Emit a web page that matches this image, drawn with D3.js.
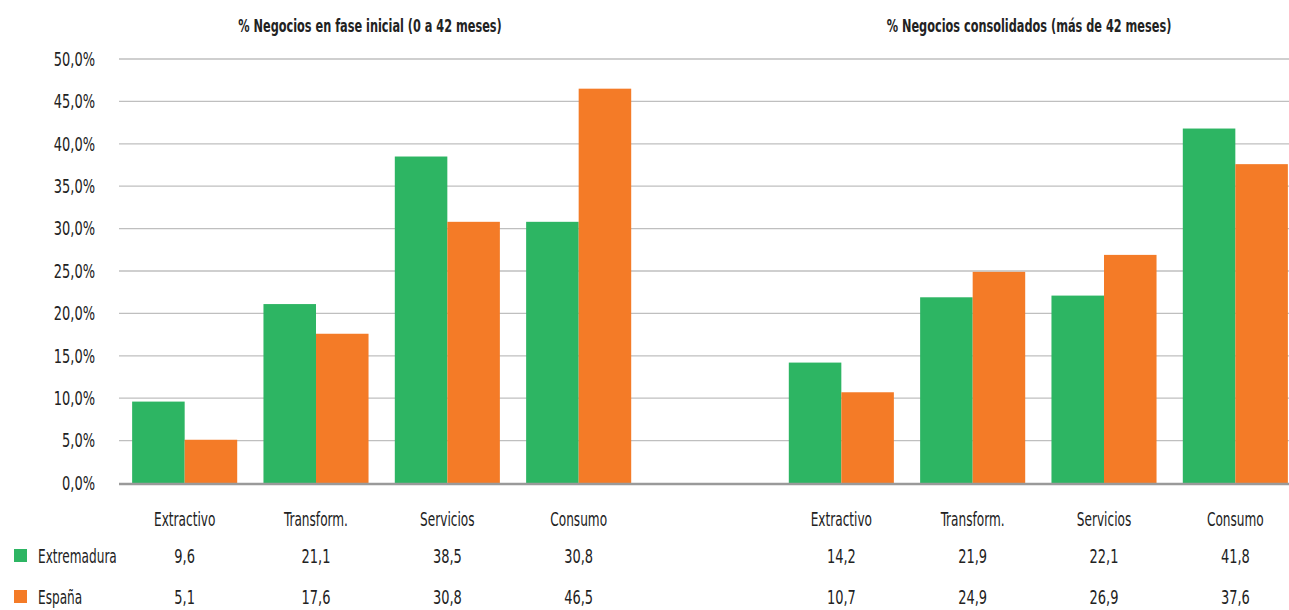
<!DOCTYPE html>
<html><head><meta charset="utf-8">
<script src="https://cdn.jsdelivr.net/npm/d3@7/dist/d3.min.js"></script>
<style>
body{margin:0;background:#fff;}
text{font-family:"DejaVu Sans Condensed","Liberation Sans Narrow",sans-serif;fill:#222;}
</style></head>
<body><svg id="c" width="1289" height="610"></svg>
<script>
const slots = ["i-Extractivo","i-Transform.","i-Servicios","i-Consumo","gap","c-Extractivo","c-Transform.","c-Servicios","c-Consumo"];
const catLabels = ["Extractivo","Transform.","Servicios","Consumo","","Extractivo","Transform.","Servicios","Consumo"];
const extremadura = [9.6,21.1,38.5,30.8,null,14.2,21.9,22.1,41.8];
const espana = [5.1,17.6,30.8,46.5,null,10.7,24.9,26.9,37.6];
const seriesNames = ["Extremadura","España"];
const colors = ["#2db563","#f47b27"];
const yTicks = [0,5,10,15,20,25,30,35,40,45,50];
const titles = ["% Negocios en fase inicial (0 a 42 meses)","% Negocios consolidados (más de 42 meses)"];

const svg = d3.select("#c");
const x = d3.scaleBand().domain(slots).range([119,1301]).paddingInner(0.2).paddingOuter(0.1);
const xs = d3.scaleBand().domain([0,1]).range([0,x.bandwidth()]);
const y = d3.scaleLinear().domain([0,50]).range([483,59]);
const fmt = v => v.toFixed(1).replace(".",",");
const SX = 0.71;
function label(sel, px, py, anchor, size, sx){
  return sel.attr("transform", d => `translate(${px(d)},${py(d)}) scale(${sx},1)`)
    .attr("x",0).attr("y",0).attr("dy","0.35em").attr("text-anchor",anchor).attr("font-size",size);
}

// grid
svg.append("g").selectAll("line").data(yTicks.filter(t=>t>0)).join("line")
  .attr("x1",119).attr("x2",1289).attr("y1",d=>y(d)).attr("y2",d=>y(d))
  .attr("stroke","#bfbfbf").attr("stroke-width",1.3);
// y labels
label(svg.append("g").selectAll("text").data(yTicks).join("text"), ()=>95, d=>y(d), "end", 19.5, 0.74)
  .text(d=>fmt(d)+"%");

// bars
const series=[extremadura,espana];
series.forEach((vals,si)=>{
  svg.append("g").selectAll("rect").data(slots.map((s,i)=>({s,v:vals[i]})).filter(d=>d.v!=null)).join("rect")
    .attr("x",d=>x(d.s)+xs(si)).attr("width",xs.bandwidth())
    .attr("y",d=>y(d.v)).attr("height",d=>y(0)-y(d.v)).attr("fill",colors[si]);
});
// axis line
svg.append("line").attr("x1",119).attr("x2",1289).attr("y1",y(0)+1).attr("y2",y(0)+1)
  .attr("stroke","#9a9a9a").attr("stroke-width",2.5);

// category labels
label(svg.append("g").selectAll("text").data(slots.map((s,i)=>({s,l:catLabels[i]}))).join("text"),
  d=>x(d.s)+x.bandwidth()/2, ()=>519, "middle", 19, SX).text(d=>d.l);

// table rows
const rowY=[556,597];
series.forEach((vals,si)=>{
  svg.append("rect").attr("x",14).attr("y",rowY[si]-7).attr("width",13).attr("height",13).attr("fill",colors[si]);
  label(svg.append("text").datum(0), ()=>38, ()=>rowY[si], "start", 19, SX).text(seriesNames[si]);
  label(svg.append("g").selectAll("text").data(slots.map((s,i)=>({s,v:vals[i]})).filter(d=>d.v!=null)).join("text"),
    d=>x(d.s)+x.bandwidth()/2, ()=>rowY[si], "middle", 19.5, 0.74).text(d=>fmt(d.v));
});

// titles
const tx=[370,1029];
titles.forEach((t,i)=>{
  label(svg.append("text").datum(i), ()=>tx[i], ()=>26, "middle", 17, 0.74)
    .attr("font-weight","bold").text(t);
});
</script></body></html>
